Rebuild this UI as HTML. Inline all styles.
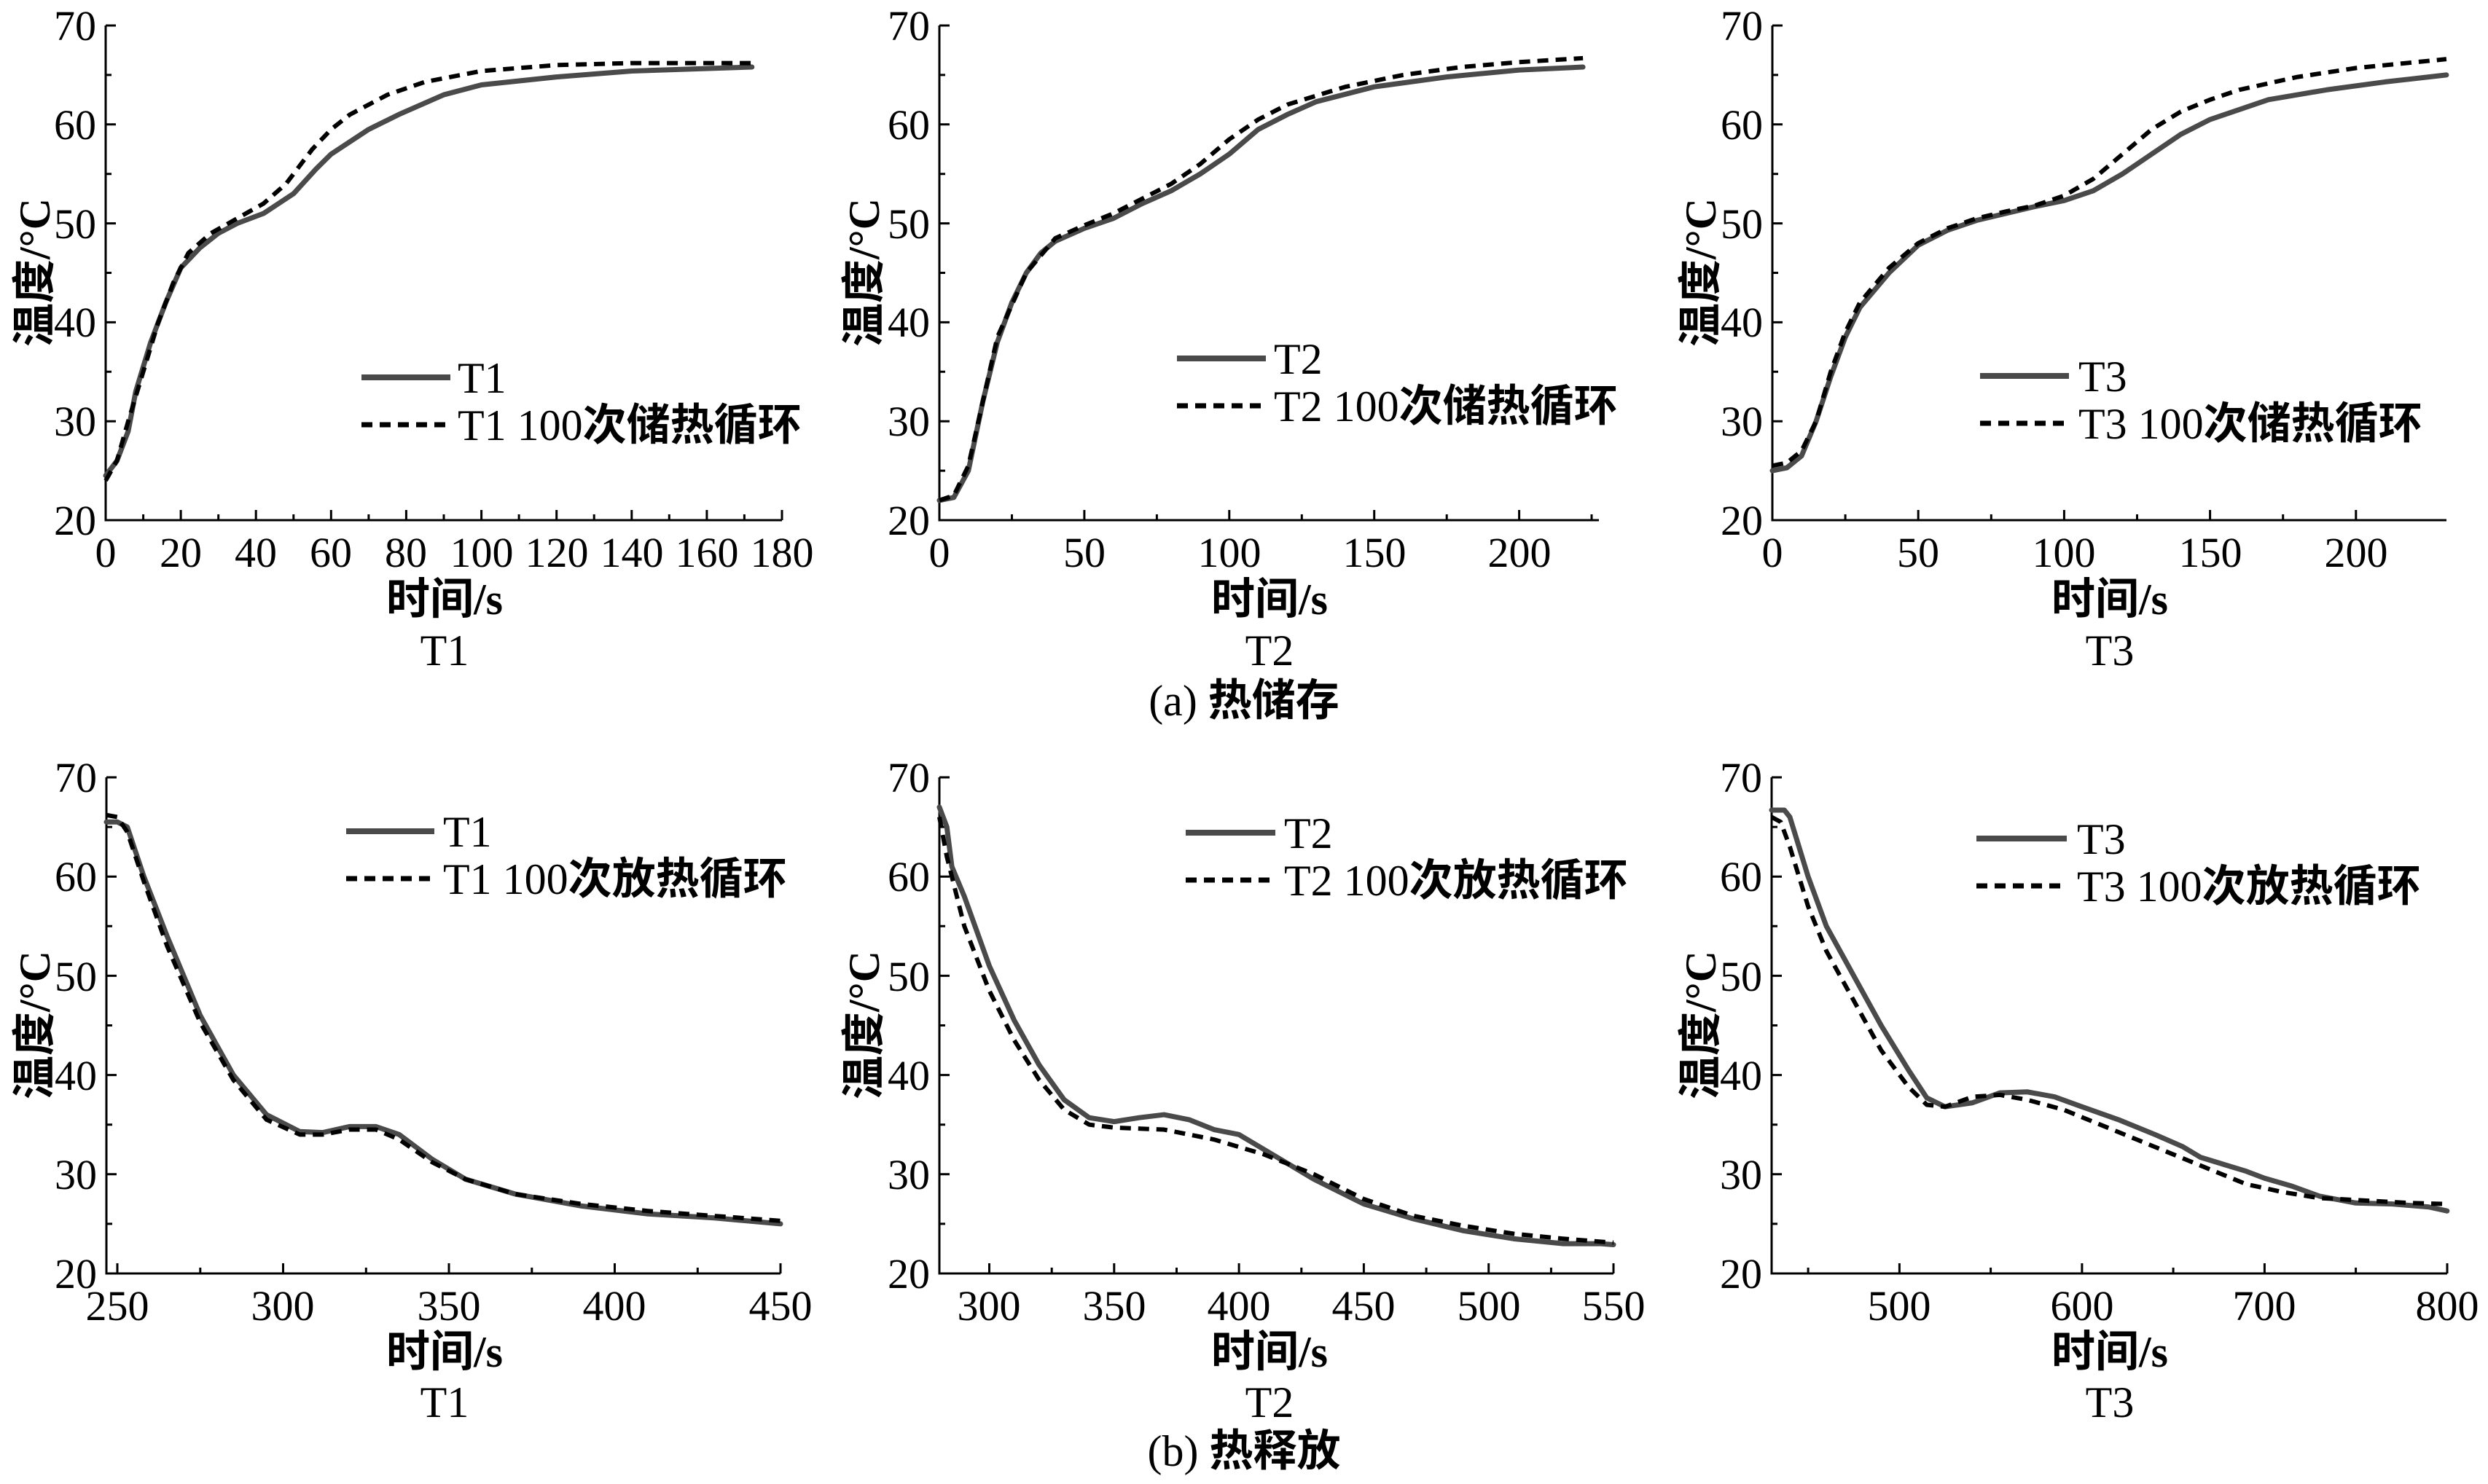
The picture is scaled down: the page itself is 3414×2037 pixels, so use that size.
<!DOCTYPE html>
<html><head><meta charset="utf-8"><style>
html,body{margin:0;padding:0;background:#fff;}
svg{display:block;}
text{font-family:"Liberation Serif","Noto Serif CJK SC","Noto Sans CJK SC",serif;fill:#000;}
.t{font-size:58px;}
.lab{font-size:60px;}
.cj{font-family:"Liberation Serif","Noto Sans CJK SC",sans-serif;font-weight:bold;}
.s{fill:none;stroke:#4a4a4a;stroke-width:7;stroke-linejoin:round;stroke-linecap:round;}
.d{fill:none;stroke:#000;stroke-width:6;stroke-dasharray:15 10;stroke-linejoin:round;}
.ax{fill:none;stroke:#000;stroke-width:3;}
</style></head><body>
<svg width="3414" height="2037" viewBox="0 0 3414 2037" xmlns="http://www.w3.org/2000/svg">
<rect width="3414" height="2037" fill="#fff"/>

<path class="ax" d="M145 35V714H1073 M1289 35V714H2194 M2432 35V714H3357"/>
<path class="ax" d="M145 35h14M145 170.8h14M145 306.6h14M145 442.4h14M145 578.2h14M145 102.9h8M145 238.7h8M145 374.5h8M145 510.3h8M145 646.1h8
M1289 35h14M1289 170.8h14M1289 306.6h14M1289 442.4h14M1289 578.2h14M1289 102.9h8M1289 238.7h8M1289 374.5h8M1289 510.3h8M1289 646.1h8
M2432 35h14M2432 170.8h14M2432 306.6h14M2432 442.4h14M2432 578.2h14M2432 102.9h8M2432 238.7h8M2432 374.5h8M2432 510.3h8M2432 646.1h8"/>
<path class="ax" d="M248.1 714v-14M351.2 714v-14M454.3 714v-14M557.4 714v-14M660.6 714v-14M763.7 714v-14M866.8 714v-14M969.9 714v-14M1073 714v-14
M196.6 714v-8M299.7 714v-8M402.8 714v-8M505.9 714v-8M609 714v-8M712.1 714v-8M815.2 714v-8M918.3 714v-8M1021.4 714v-8
M1487.9 714v-14M1686.8 714v-14M1885.7 714v-14M2084.6 714v-14M1388.5 714v-8M1587.4 714v-8M1786.3 714v-8M1985.2 714v-8M2184 714v-8
M2632.2 714v-14M2832.4 714v-14M3032.6 714v-14M3232.8 714v-14M2532.1 714v-8M2732.3 714v-8M2932.5 714v-8M3132.7 714v-8"/>
<g class="t" text-anchor="end">
<text x="132" y="55">70</text><text x="132" y="191">60</text><text x="132" y="327">50</text><text x="132" y="462">40</text><text x="132" y="598">30</text><text x="132" y="734">20</text>
<text x="1276" y="55">70</text><text x="1276" y="191">60</text><text x="1276" y="327">50</text><text x="1276" y="462">40</text><text x="1276" y="598">30</text><text x="1276" y="734">20</text>
<text x="2419" y="55">70</text><text x="2419" y="191">60</text><text x="2419" y="327">50</text><text x="2419" y="462">40</text><text x="2419" y="598">30</text><text x="2419" y="734">20</text>
</g>
<g class="t" text-anchor="middle">
<text x="145" y="778">0</text><text x="248" y="778">20</text><text x="351" y="778">40</text><text x="454" y="778">60</text><text x="557" y="778">80</text><text x="661" y="778">100</text><text x="764" y="778">120</text><text x="867" y="778">140</text><text x="970" y="778">160</text><text x="1073" y="778">180</text>
<text x="1289" y="778">0</text><text x="1488" y="778">50</text><text x="1687" y="778">100</text><text x="1886" y="778">150</text><text x="2085" y="778">200</text>
<text x="2432" y="778">0</text><text x="2632" y="778">50</text><text x="2832" y="778">100</text><text x="3033" y="778">150</text><text x="3233" y="778">200</text>
</g>
<g class="lab" text-anchor="middle">
<text x="610" y="843" class="cj">时间/s</text><text x="1742" y="843" class="cj">时间/s</text><text x="2895" y="843" class="cj">时间/s</text>
<text x="610" y="913">T1</text><text x="1742" y="913">T2</text><text x="2895" y="913">T3</text>
<text x="1707" y="982"><tspan>(a) </tspan><tspan class="cj">热储存</tspan></text>
<text transform="translate(68,374) rotate(-90)" class="cj">温度/°C</text>
<text transform="translate(1206,374) rotate(-90)" class="cj">温度/°C</text>
<text transform="translate(2354,374) rotate(-90)" class="cj">温度/°C</text>
</g>

<g transform="translate(145,985.6) scale(5.156,-13.58)">
<polyline class="s" vector-effect="non-scaling-stroke" points="0,24.5 3,26 6,29 8,33 12,38 16,42 20,45.5 25,47.5 30,49 35,50 42,51 50,53 56,55.5 60,57 70,59.5 78,61 90,63 100,64 120,64.8 140,65.4 172,65.8"/>
<polyline class="d" vector-effect="non-scaling-stroke" points="0,24 3,26 6,30 10,35 14,40 18,44 22,47 28,49 35,50.5 42,52 48,54 55,57.5 60,59.5 65,61 75,63 85,64.3 100,65.4 120,66 140,66.2 172,66.2"/>
</g>
<g transform="translate(1289,985.6) scale(3.978,-13.58)">
<polyline class="s" vector-effect="non-scaling-stroke" points="0,22 5,22.3 10,25 15,32 20,38 25,42 30,45 35,47 40,48.2 50,49.5 60,50.5 70,52 80,53.3 90,55 100,57 110,59.5 120,61 130,62.3 150,63.8 175,64.8 200,65.5 222,65.8"/>
<polyline class="d" vector-effect="non-scaling-stroke" points="0,22 5,22.5 10,25.5 15,32 20,38.5 30,45 40,48.5 50,49.8 60,51 70,52.5 80,54 90,56 100,58.5 110,60.5 120,62 140,63.8 160,65 180,65.8 200,66.3 222,66.7"/>
</g>
<g transform="translate(2432,985.6) scale(4.004,-13.58)">
<polyline class="s" vector-effect="non-scaling-stroke" points="0,25 5,25.3 10,26.5 15,30 20,34.5 25,38.5 30,41.5 40,45 50,47.8 60,49.3 70,50.3 80,51 90,51.7 100,52.3 110,53.3 120,55 130,57 140,59 150,60.5 160,61.5 170,62.5 190,63.5 210,64.3 231,65"/>
<polyline class="d" vector-effect="non-scaling-stroke" points="0,25.5 5,25.8 10,27 15,30 20,35 25,39 30,42 40,45.5 50,48 60,49.5 70,50.5 80,51.2 90,51.8 100,52.8 110,54.5 120,57 130,59.5 140,61.3 150,62.5 160,63.5 180,64.8 200,65.7 231,66.6"/>
</g>

<g class="lab">
<line x1="496" y1="518" x2="618" y2="518" stroke="#4a4a4a" stroke-width="8"/>
<line x1="496" y1="583" x2="618" y2="583" stroke="#000" stroke-width="7" stroke-dasharray="15 10"/>
<text x="628" y="539">T1</text><text x="628" y="604">T1 100<tspan class="cj">次储热循环</tspan></text>
<line x1="1615" y1="492" x2="1737" y2="492" stroke="#4a4a4a" stroke-width="8"/>
<line x1="1615" y1="557" x2="1737" y2="557" stroke="#000" stroke-width="7" stroke-dasharray="15 10"/>
<text x="1748" y="513">T2</text><text x="1748" y="578">T2 100<tspan class="cj">次储热循环</tspan></text>
<line x1="2717" y1="516" x2="2839" y2="516" stroke="#4a4a4a" stroke-width="8"/>
<line x1="2717" y1="581" x2="2839" y2="581" stroke="#000" stroke-width="7" stroke-dasharray="15 10"/>
<text x="2852" y="537">T3</text><text x="2852" y="602">T3 100<tspan class="cj">次储热循环</tspan></text>
</g>

<path class="ax" d="M146 1067V1748H1071 M1289 1067V1748H2214 M2431 1067V1748H3358"/>
<path class="ax" d="M146 1067h14M146 1203.2h14M146 1339.4h14M146 1475.6h14M146 1611.8h14M146 1135.1h8M146 1271.3h8M146 1407.5h8M146 1543.7h8M146 1679.9h8
M1289 1067h14M1289 1203.2h14M1289 1339.4h14M1289 1475.6h14M1289 1611.8h14M1289 1135.1h8M1289 1271.3h8M1289 1407.5h8M1289 1543.7h8M1289 1679.9h8
M2431 1067h14M2431 1203.2h14M2431 1339.4h14M2431 1475.6h14M2431 1611.8h14M2431 1135.1h8M2431 1271.3h8M2431 1407.5h8M2431 1543.7h8M2431 1679.9h8"/>
<path class="ax" d="M161 1748v-14M388.5 1748v-14M616 1748v-14M843.5 1748v-14M1071 1748v-14M274.8 1748v-8M502.3 1748v-8M729.8 1748v-8M957.3 1748v-8
M1357.5 1748v-14M1528.8 1748v-14M1700.1 1748v-14M1871.4 1748v-14M2042.7 1748v-14M2214 1748v-14M1443.2 1748v-8M1614.5 1748v-8M1785.8 1748v-8M1957.1 1748v-8M2128.4 1748v-8
M2606.4 1748v-14M2856.9 1748v-14M3107.4 1748v-14M3358 1748v-14M2481.1 1748v-8M2731.6 1748v-8M2982.1 1748v-8M3232.6 1748v-8"/>
<g class="t" text-anchor="end">
<text x="133" y="1087">70</text><text x="133" y="1223">60</text><text x="133" y="1360">50</text><text x="133" y="1496">40</text><text x="133" y="1632">30</text><text x="133" y="1768">20</text>
<text x="1276" y="1087">70</text><text x="1276" y="1223">60</text><text x="1276" y="1360">50</text><text x="1276" y="1496">40</text><text x="1276" y="1632">30</text><text x="1276" y="1768">20</text>
<text x="2418" y="1087">70</text><text x="2418" y="1223">60</text><text x="2418" y="1360">50</text><text x="2418" y="1496">40</text><text x="2418" y="1632">30</text><text x="2418" y="1768">20</text>
</g>
<g class="t" text-anchor="middle">
<text x="161" y="1812">250</text><text x="388" y="1812">300</text><text x="616" y="1812">350</text><text x="843" y="1812">400</text><text x="1071" y="1812">450</text>
<text x="1357" y="1812">300</text><text x="1529" y="1812">350</text><text x="1700" y="1812">400</text><text x="1871" y="1812">450</text><text x="2043" y="1812">500</text><text x="2214" y="1812">550</text>
<text x="2606" y="1812">500</text><text x="2857" y="1812">600</text><text x="3107" y="1812">700</text><text x="3358" y="1812">800</text>
</g>
<g class="lab" text-anchor="middle">
<text x="610" y="1876" class="cj">时间/s</text><text x="1742" y="1876" class="cj">时间/s</text><text x="2895" y="1876" class="cj">时间/s</text>
<text x="610" y="1945">T1</text><text x="1742" y="1945">T2</text><text x="2895" y="1945">T3</text>
<text x="1707" y="2012"><tspan>(b) </tspan><tspan class="cj">热释放</tspan></text>
<text transform="translate(68,1407) rotate(-90)" class="cj">温度/°C</text>
<text transform="translate(1206,1407) rotate(-90)" class="cj">温度/°C</text>
<text transform="translate(2354,1407) rotate(-90)" class="cj">温度/°C</text>
</g>

<g transform="translate(-976.5,2020.4) scale(4.55,-13.62)">
<polyline class="s" vector-effect="non-scaling-stroke" points="246.7,65.5 250,65.5 253,65 258,60 265,54 275,46 285,40 295,36 305,34.3 312,34.2 320,34.8 328,34.8 335,34 345,31.5 355,29.5 370,28 390,26.8 410,26 430,25.6 450,25"/>
<polyline class="d" vector-effect="non-scaling-stroke" points="246.7,66.2 250,66 253,64.5 258,59.5 265,53 275,45.3 285,39.5 295,35.5 305,34 312,34 320,34.5 328,34.5 335,33.5 345,31.2 355,29.5 370,28 390,27 410,26.3 430,25.8 450,25.3"/>
</g>
<g transform="translate(329.7,2020.4) scale(3.426,-13.62)">
<polyline class="s" vector-effect="non-scaling-stroke" points="280,67 283,65 285,61 290,58 300,51 310,45.5 320,41 330,37.5 340,35.7 350,35.3 360,35.7 370,36 380,35.5 390,34.5 400,34 410,32.5 420,31 430,29.5 450,27 470,25.5 490,24.3 510,23.5 530,23 545,23 550,22.9"/>
<polyline class="d" vector-effect="non-scaling-stroke" points="280,66 283,62 290,55 300,48.5 310,43.5 320,39.5 330,36.5 340,35 350,34.7 370,34.5 390,33.5 410,32 430,30 450,27.5 470,25.8 490,24.8 510,24 530,23.5 550,23.1"/>
</g>
<g transform="translate(1353.8,2020.4) scale(2.505,-13.62)">
<polyline class="s" vector-effect="non-scaling-stroke" points="430,66.7 437,66.7 440,66 450,60 460,55 475,50 490,45 505,40.5 515,37.7 525,36.8 540,37.2 555,38.2 570,38.3 585,37.8 600,36.8 620,35.5 640,34 655,32.8 665,31.7 690,30.3 700,29.6 715,28.8 730,27.8 750,27.1 770,27 790,26.7 800,26.3"/>
<polyline class="d" vector-effect="non-scaling-stroke" points="430,66 435,65.5 440,63 450,57 460,52.5 475,47.5 490,42.5 505,38.8 515,37 525,36.8 540,37.8 555,38 570,37.5 590,36.5 610,35 630,33.5 650,32 670,30.5 690,29 710,28.2 730,27.6 760,27.3 780,27.1 800,27"/>
</g>

<g class="lab">
<line x1="475" y1="1141" x2="596" y2="1141" stroke="#4a4a4a" stroke-width="8"/>
<line x1="475" y1="1206" x2="596" y2="1206" stroke="#000" stroke-width="7" stroke-dasharray="15 10"/>
<text x="608" y="1162">T1</text><text x="608" y="1227">T1 100<tspan class="cj">次放热循环</tspan></text>
<line x1="1627" y1="1143" x2="1750" y2="1143" stroke="#4a4a4a" stroke-width="8"/>
<line x1="1627" y1="1208" x2="1750" y2="1208" stroke="#000" stroke-width="7" stroke-dasharray="15 10"/>
<text x="1762" y="1164">T2</text><text x="1762" y="1229">T2 100<tspan class="cj">次放热循环</tspan></text>
<line x1="2712" y1="1151" x2="2836" y2="1151" stroke="#4a4a4a" stroke-width="8"/>
<line x1="2712" y1="1216" x2="2836" y2="1216" stroke="#000" stroke-width="7" stroke-dasharray="15 10"/>
<text x="2850" y="1172">T3</text><text x="2850" y="1237">T3 100<tspan class="cj">次放热循环</tspan></text>
</g>
</svg>
</body></html>
